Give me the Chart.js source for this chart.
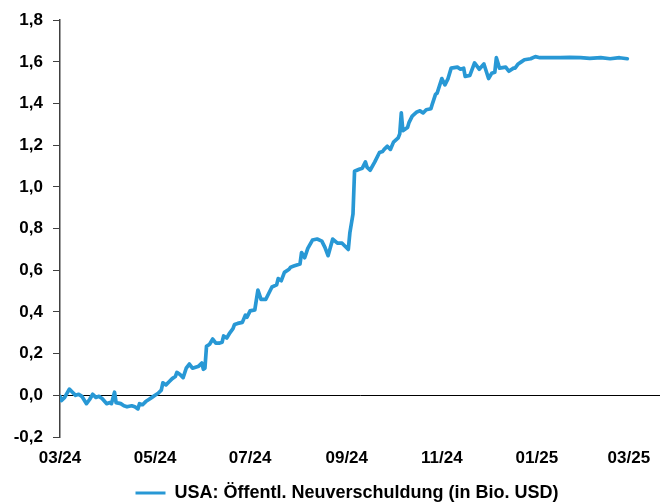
<!DOCTYPE html>
<html>
<head>
<meta charset="utf-8">
<script src="https://cdn.jsdelivr.net/npm/chart.js@4"></script>
<style>
  html, body { margin: 0; padding: 0; background: #fff; }
  #wrap { width: 667px; height: 502px; }
</style>
</head>
<body>
<div id="wrap"><canvas id="c" width="667" height="502"></canvas></div>
<script>
// Days since 2024-03-01
const days = [0,1,3,6,8,10,12,14,17,19,21,23,25,27,30,32,33,35,36,39,41,43,46,48,50,51,53,55,57,59,
  61,63,65,66,68,70,72,74,75,77,79,81,83,85,87,89,91,92,93,94,96,98,100,102,104,105,107,109,111,112,
  114,117,119,120,122,125,127,129,132,136,139,140,142,144,147,148,150,154,155,157,159,162,165,168,170,
  172,175,178,181,185,186,188,189,192,194,196,197,199,202,205,207,208,210,212,214,217,218,219,220,223,
  224,226,229,231,233,235,238,239,241,242,245,247,249,251,255,257,259,260,263,266,269,272,275,277,279,
  280,282,286,288,291,292,294,296,298,302,305,308,314,321,327,334,340,347,353,359,364];
// USA: Öffentl. Neuverschuldung (in Bio. USD)
const values = [-0.005,-0.025,-0.01,0.03,0.015,0.0,0.005,-0.005,-0.04,-0.02,0.005,-0.01,-0.005,-0.015,-0.04,-0.035,-0.04,0.015,-0.035,-0.04,-0.05,-0.055,-0.05,-0.055,-0.065,-0.04,-0.045,-0.03,-0.02,-0.01,
  0.0,0.01,0.025,0.06,0.05,0.065,0.08,0.09,0.11,0.1,0.085,0.13,0.15,0.13,0.135,0.14,0.155,0.125,0.13,0.235,0.245,0.27,0.25,0.25,0.255,0.285,0.275,0.30,0.32,0.34,
  0.345,0.35,0.385,0.375,0.405,0.41,0.505,0.46,0.46,0.52,0.53,0.56,0.55,0.59,0.605,0.615,0.62,0.63,0.685,0.66,0.705,0.745,0.75,0.74,0.71,
  0.67,0.75,0.73,0.73,0.70,0.78,0.87,1.075,1.085,1.09,1.12,1.095,1.08,1.12,1.165,1.17,1.18,1.195,1.18,1.215,1.235,1.255,1.355,1.27,1.285,
  1.31,1.34,1.36,1.365,1.355,1.37,1.375,1.40,1.445,1.45,1.52,1.49,1.52,1.57,1.575,1.565,1.57,1.53,1.535,1.595,1.565,1.59,1.52,1.545,1.55,
  1.62,1.57,1.575,1.555,1.57,1.57,1.59,1.6,1.61,1.615,1.625,1.62,1.62,1.62,1.622,1.62,1.617,1.62,1.615,1.62,1.615];
const tickLabels = ['03/24','05/24','07/24','09/24','11/24','01/25','03/25'];
const seriesName = 'USA: Öffentl. Neuverschuldung (in Bio. USD)';

const origin = Date.UTC(2024, 2, 1);
function labelToDay(l) {
  const m = parseInt(l.slice(0, 2), 10) - 1;
  const y = 2000 + parseInt(l.slice(3), 10);
  return Math.round((Date.UTC(y, m, 1) - origin) / 86400000);
}
const tickDays = tickLabels.map(labelToDay);

const blue = '#2898D5';
const font = { family: '"Liberation Sans", Arial, sans-serif', size: 17, weight: 'bold' };

const legendShift = {
  id: 'legendShift',
  afterLayout(chart) {
    const lg = chart.legend;
    if (!lg) return;
    lg.left += 17; lg.right += 17;
    lg.top += 10; lg.bottom += 10;
  }
};

new Chart(document.getElementById('c'), {
  type: 'line',
  plugins: [legendShift],
  data: {
    datasets: [{
      label: seriesName,
      data: days.map((d, i) => ({ x: d, y: values[i] })),
      borderColor: blue,
      backgroundColor: blue,
      borderWidth: 3.7,
      pointRadius: 0,
      tension: 0,
      borderJoinStyle: 'round',
      borderCapStyle: 'round'
    }]
  },
  options: {
    responsive: false,
    animation: false,
    devicePixelRatio: 1,
    layout: { padding: { top: 19, left: 0, right: 7, bottom: 0 } },
    plugins: {
      tooltip: { enabled: false },
      legend: {
        position: 'bottom',
        labels: {
          color: '#000',
          font: { family: '"Liberation Sans", Arial, sans-serif', size: 18, weight: 'bold' },
          boxWidth: 30,
          boxHeight: 3,
          padding: 10,
          generateLabels: (chart) => chart.data.datasets.map((ds, i) => ({
            text: ds.label, fillStyle: blue, strokeStyle: blue, lineWidth: 0, datasetIndex: i, fontColor: '#000'
          }))
        }
      }
    },
    scales: {
      x: {
        type: 'linear',
        min: 0,
        max: 385,
        grid: { display: false, drawTicks: false },
        border: { display: false },
        afterBuildTicks: (s) => { s.ticks = tickDays.map(v => ({ value: v })); },
        afterFit: (s) => { s.height = 27; },
        ticks: {
          autoSkip: false,
          maxRotation: 0,
          padding: 11,
          color: '#000',
          font: font,
          callback: (v) => { const i = tickDays.indexOf(v); return i >= 0 ? tickLabels[i] : ''; }
        }
      },
      y: {
        min: -0.2,
        max: 1.8,
        afterFit: (s) => { s.width = 60; },
        border: { display: true, color: '#404040', width: 1.5 },
        grid: {
          drawTicks: true,
          tickLength: 7,
          tickColor: '#404040',
          lineWidth: 1,
          color: (ctx) => (ctx.tick && Math.abs(ctx.tick.value) < 1e-9) ? '#000' : 'rgba(0,0,0,0)'
        },
        ticks: {
          stepSize: 0.2,
          padding: 10,
          color: '#000',
          font: font,
          callback: (v) => v.toFixed(1).replace('.', ',')
        }
      }
    }
  }
});
</script>
</body>
</html>
